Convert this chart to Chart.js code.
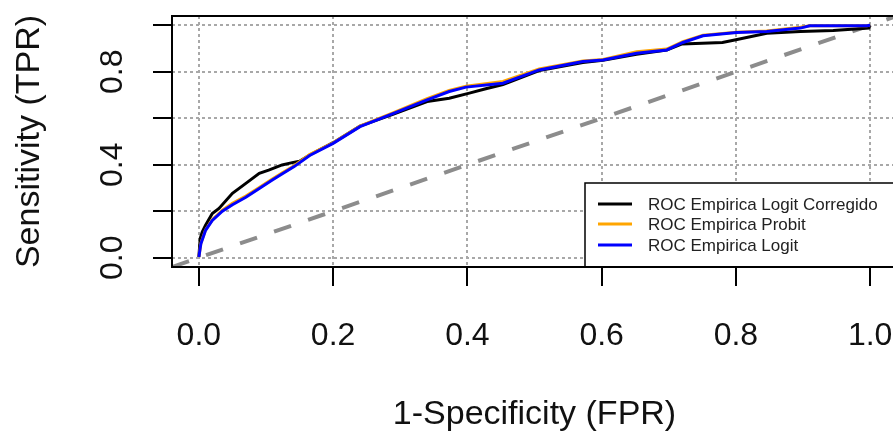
<!DOCTYPE html>
<html>
<head>
<meta charset="utf-8">
<script src="https://cdn.jsdelivr.net/npm/chart.js@4/dist/chart.umd.min.js"></script>
<style>
  html, body { margin: 0; padding: 0; background: #fff; overflow: hidden; }
</style>
</head>
<body>
<canvas id="myChart" width="900" height="435"></canvas>
<script>
// ticks
const xTicks = [0, 0.2, 0.4, 0.6, 0.8, 1.0];
const yTicks = [0, 0.2, 0.4, 0.6, 0.8, 1.0];
const yTickLabels = [0, 0.4, 0.8]; // R drops the overlapping ones

// ROC Empirica Logit (blue)
const fprLogit = [0, 0.003, 0.01, 0.02, 0.035, 0.05, 0.07, 0.09, 0.11, 0.125, 0.142, 0.165, 0.2, 0.24, 0.29, 0.34, 0.373, 0.398, 0.453, 0.507, 0.572, 0.602, 0.652, 0.697, 0.721, 0.751, 0.801, 0.846, 0.896, 0.91, 0.995, 1];
const tprLogit = [0.003, 0.06, 0.118, 0.16, 0.2, 0.228, 0.26, 0.298, 0.335, 0.362, 0.392, 0.44, 0.492, 0.564, 0.621, 0.679, 0.715, 0.734, 0.751, 0.808, 0.844, 0.851, 0.88, 0.894, 0.926, 0.955, 0.969, 0.973, 0.988, 0.998, 0.998, 1];

// ROC Empirica Probit (orange)
const fprProbit = [0, 0.003, 0.01, 0.02, 0.035, 0.05, 0.07, 0.09, 0.11, 0.125, 0.142, 0.165, 0.2, 0.24, 0.29, 0.34, 0.373, 0.398, 0.453, 0.507, 0.572, 0.602, 0.652, 0.697, 0.721, 0.751, 0.801, 0.846, 0.896, 0.91, 0.995, 1];
const tprProbit = [0.003, 0.062, 0.12, 0.163, 0.205, 0.234, 0.265, 0.302, 0.34, 0.366, 0.396, 0.444, 0.494, 0.566, 0.624, 0.684, 0.72, 0.738, 0.758, 0.812, 0.846, 0.853, 0.886, 0.898, 0.93, 0.957, 0.97, 0.975, 0.992, 0.998, 0.998, 1];

// ROC Empirica Logit Corregido (black)
const fprCorr = [0, 0.002, 0.005, 0.01, 0.02, 0.03, 0.05, 0.07, 0.09, 0.104, 0.124, 0.139, 0.15, 0.165, 0.2, 0.24, 0.29, 0.34, 0.373, 0.403, 0.426, 0.453, 0.507, 0.572, 0.602, 0.652, 0.697, 0.72, 0.78, 0.8, 0.846, 0.896, 0.945, 0.998, 1];
const tprCorr = [0.003, 0.083, 0.11, 0.14, 0.19, 0.212, 0.277, 0.32, 0.363, 0.377, 0.399, 0.409, 0.415, 0.442, 0.495, 0.566, 0.618, 0.672, 0.686, 0.708, 0.726, 0.745, 0.805, 0.84, 0.85, 0.875, 0.893, 0.92, 0.926, 0.9375, 0.966, 0.973, 0.978, 0.988, 1];

// abline(0, 1) across the whole plot region
const diagX = [-0.04, 1.04];
const diagY = [-0.04, 1.04];

const toPoints = (xs, ys) => xs.map((x, i) => ({ x: x, y: ys[i] }));

const FONT = "'Liberation Sans', Arial, sans-serif";

const legendItems = [
    { label: 'ROC Empirica Logit Corregido', color: '#000000' },
    { label: 'ROC Empirica Probit', color: '#ffa500' },
    { label: 'ROC Empirica Logit', color: '#0000ff' }
];

// legend box, y tick labels (rotated like R) and the plot frame
const rStyle = {
    id: 'rStyle',
    afterDraw(chart) {
        const ctx = chart.ctx;
        const a = chart.chartArea;
        const yScale = chart.scales.y;
        ctx.save();

        // legend
        const lx = 585, ly = 183;
        ctx.fillStyle = '#fff';
        ctx.fillRect(lx, ly, 400, a.bottom - ly);
        ctx.strokeStyle = '#000';
        ctx.lineWidth = 1.5;
        ctx.strokeRect(lx, ly, 400, a.bottom - ly);
        const rows = [204, 224, 245];
        ctx.font = '17px ' + FONT;
        ctx.textBaseline = 'middle';
        ctx.textAlign = 'left';
        legendItems.forEach((it, i) => {
            ctx.strokeStyle = it.color;
            ctx.lineWidth = 3;
            ctx.beginPath();
            ctx.moveTo(598, rows[i]);
            ctx.lineTo(632, rows[i]);
            ctx.stroke();
            ctx.fillStyle = '#222';
            ctx.fillText(it.label, 648, rows[i] + 1);
        });

        // plot frame
        ctx.strokeStyle = '#000';
        ctx.lineWidth = 2;
        ctx.strokeRect(a.left, a.top, a.right - a.left, a.bottom - a.top);

        // y tick labels
        ctx.font = '32px ' + FONT;
        ctx.fillStyle = '#111';
        ctx.textAlign = 'center';
        ctx.textBaseline = 'middle';
        yTickLabels.forEach(v => {
            ctx.save();
            ctx.translate(113, yScale.getPixelForValue(v));
            ctx.rotate(-Math.PI / 2);
            ctx.fillText(v.toFixed(1), 0, 0);
            ctx.restore();
        });
        ctx.restore();
    }
};

new Chart(document.getElementById('myChart'), {
    type: 'line',
    data: {
        datasets: [
            {
                label: 'diag',
                data: toPoints(diagX, diagY),
                borderColor: '#8c8c8c',
                borderWidth: 4,
                borderDash: [18, 18],
                pointRadius: 0,
                order: 4
            },
            {
                label: legendItems[0].label,
                data: toPoints(fprCorr, tprCorr),
                borderColor: '#000000',
                borderWidth: 3,
                pointRadius: 0,
                order: 3
            },
            {
                label: legendItems[1].label,
                data: toPoints(fprProbit, tprProbit),
                borderColor: '#ffa500',
                borderWidth: 3,
                pointRadius: 0,
                order: 2
            },
            {
                label: legendItems[2].label,
                data: toPoints(fprLogit, tprLogit),
                borderColor: '#0000ff',
                borderWidth: 3,
                pointRadius: 0,
                order: 1
            }
        ]
    },
    options: {
        responsive: false,
        animation: false,
        devicePixelRatio: 1,
        layout: { padding: { left: 0, top: 16, right: 3, bottom: 0 } },
        plugins: {
            legend: { display: false },
            tooltip: { enabled: false }
        },
        scales: {
            x: {
                type: 'linear',
                min: -0.04,
                max: 1.04,
                afterBuildTicks: axis => { axis.ticks = xTicks.map(v => ({ value: v })); },
                afterFit: axis => {
                    axis.height = 168;
                    axis.paddingLeft = 0;
                    axis.paddingRight = 0;
                },
                grid: {
                    color: '#a8a8a8',
                    lineWidth: 2,
                    drawTicks: true,
                    tickLength: 19,
                    tickColor: '#000',
                    tickWidth: 2
                },
                border: { display: false, dash: [3, 3] },
                ticks: {
                    padding: 31,
                    maxRotation: 0,
                    color: '#111',
                    font: { family: FONT, size: 32 },
                    callback: v => v.toFixed(1)
                },
                title: {
                    display: true,
                    text: '1-Specificity (FPR)',
                    color: '#111',
                    font: { family: FONT, size: 34 },
                    padding: { top: 0, bottom: 0 }
                }
            },
            y: {
                type: 'linear',
                min: -0.04,
                max: 1.04,
                afterBuildTicks: axis => { axis.ticks = yTicks.map(v => ({ value: v })); },
                afterFit: axis => {
                    axis.width = 172;
                    axis.paddingTop = 0;
                    axis.paddingBottom = 0;
                },
                grid: {
                    color: '#a8a8a8',
                    lineWidth: 2,
                    drawTicks: true,
                    tickLength: 19,
                    tickColor: '#000',
                    tickWidth: 2
                },
                border: { display: false, dash: [3, 3] },
                ticks: { display: false },
                title: {
                    display: true,
                    text: 'Sensitivity (TPR)',
                    color: '#111',
                    font: { family: FONT, size: 34 },
                    padding: { top: 9, bottom: 0 }
                }
            }
        }
    },
    plugins: [rStyle]
});
</script>
</body>
</html>
